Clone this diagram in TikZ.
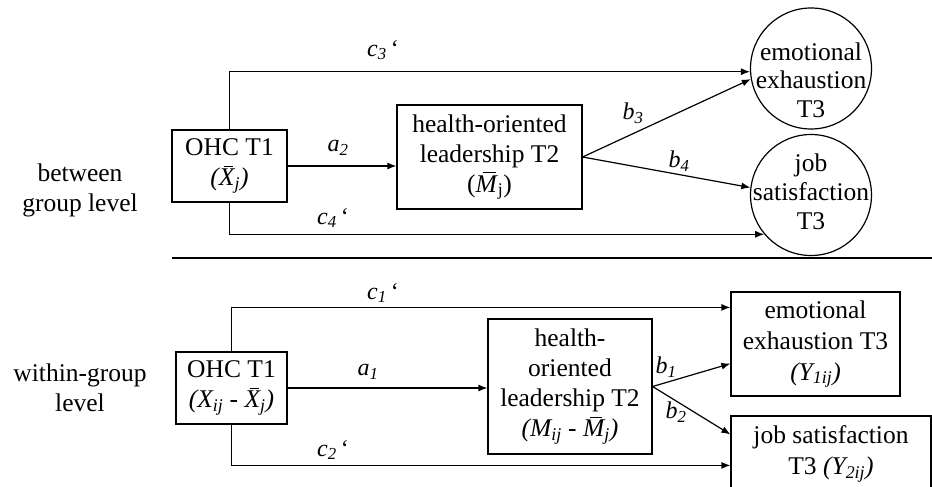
\documentclass[tikz,border=0pt]{standalone}
\usepackage{fontspec}
\setmainfont{Liberation Serif}
\usetikzlibrary{arrows.meta,calc}
\newcommand{\bx}[1]{\setbox0\hbox{\textit{#1}}\rlap{\kern0.32\wd0\raisebox{0.74em}{\rule{0.58\wd0}{1.2pt}}}\box0}
\newcommand{\pthlbl}[2]{\textit{#1}\textsubscript{\textit{#2}}\,\textquoteleft}
\newcommand{\sublbl}[2]{\textit{#1}\textsubscript{\textit{#2}}}
\tikzset{
  txt/.style={font=\fontsize{25.5}{30}\selectfont, align=center, inner sep=0pt},
  box/.style={draw, line width=1.2pt, inner sep=0pt, align=center, font=\fontsize{25.5}{30}\selectfont},
  circ/.style={draw, circle, line width=1.2pt, inner sep=0pt, minimum size=121pt},
  lbl/.style={font=\fontsize{24}{28}\selectfont, inner sep=0pt},
  arr/.style={line width=1.2pt, -{Latex[length=9pt,width=7pt]}}
}
\begin{document}
\begin{tikzpicture}[x=1pt,y=-1pt]
\useasboundingbox (0,0) rectangle (932,487);
\clip (0,0) rectangle (932,487);
% level labels
\node[txt] (lb1) at (80,190) {between\\group level};
\node[txt] (lb2) at (80,388) {within-group\\level};
% top level
\node[box, minimum width=115pt, minimum height=72pt] (ohct) at (229.5,166) {OHC T1\\\textit{(\bx{X}\textsubscript{j})}};
\node[box, minimum width=185pt, minimum height=104pt] (holt) at (489.5,157) {health-oriented\\leadership T2\\(\bx{M}\textsubscript{j})};
\node[circ] (eec) at (811,68.5) {};
\node[txt, font=\fontsize{25.5}{28.5}\selectfont] (eet) at (811,80) {emotional\\exhaustion\\T3};
\node[circ] (jsc) at (811,195) {};
\node[txt, font=\fontsize{25.5}{29}\selectfont] (jst) at (811,192) {job\\satisfaction\\T3};
\draw[arr] (ohct.north) |- (eec.183);
\draw[arr] (ohct.east) -- (ohct.east -| holt.west);
\draw[arr] (ohct.south) |- (jsc.220);
\draw[arr] (holt.east) -- (eec.190);
\draw[arr] (holt.east) -- (jsc.173);
\node[lbl] (c3) at (383,50) {\pthlbl{c}{3}};
\node[lbl] (a2) at (338,148) {\sublbl{a}{2}};
\node[lbl] (b3) at (633,113) {\sublbl{b}{3}};
\node[lbl] (b4) at (679,161) {\sublbl{b}{4}};
\node[lbl] (c4) at (333,218) {\pthlbl{c}{4}};
% separator
\coordinate (sepl) at (172,258);
\coordinate (sepr) at (935,258);
\draw[line width=2.2pt] (sepl) -- (sepr);
% bottom level
\node[box, minimum width=111pt, minimum height=72pt] (ohcb) at (231.5,388) {OHC T1\\\textit{(X\textsubscript{ij} - \bx{X}\textsubscript{j})}};
\node[box, minimum width=164pt, minimum height=135pt] (holb) at (570,386.5) {health-\\oriented\\leadership T2\\\textit{(M\textsubscript{ij} - \bx{M}\textsubscript{j})}};
\node[box, minimum width=169pt, minimum height=104pt, font=\fontsize{25.5}{31}\selectfont] (eeb) at (815.5,344) {\rule{0pt}{6pt}emotional\\exhaustion T3\\\textit{(Y\textsubscript{1ij})}};
\node[box, minimum width=200pt, minimum height=76pt, font=\fontsize{25.5}{31}\selectfont] (jsb) at (831,454) {job satisfaction\\T3 \textit{(Y\textsubscript{2ij})}};
\draw[arr] (ohcb.north) |- ([yshift=-16pt]eeb.north west);
\draw[arr] (ohcb.east) -- (ohcb.east -| holb.west);
\draw[arr] (ohcb.south) |- ([yshift=-50pt]jsb.north west);
\draw[arr] (holb.east) -- ([yshift=33pt]eeb.south west);
\draw[arr] (holb.east) -- ([yshift=-19pt]jsb.north west);
\node[lbl] (c1) at (383,293) {\pthlbl{c}{1}};
\node[lbl] (a1) at (368,372) {\sublbl{a}{1}};
\node[lbl] (c2) at (333,450) {\pthlbl{c}{2}};
\node[lbl] (b1) at (666,367) {\sublbl{b}{1}};
\node[lbl] (b2) at (676,412) {\sublbl{b}{2}};
\end{tikzpicture}
\end{document}
